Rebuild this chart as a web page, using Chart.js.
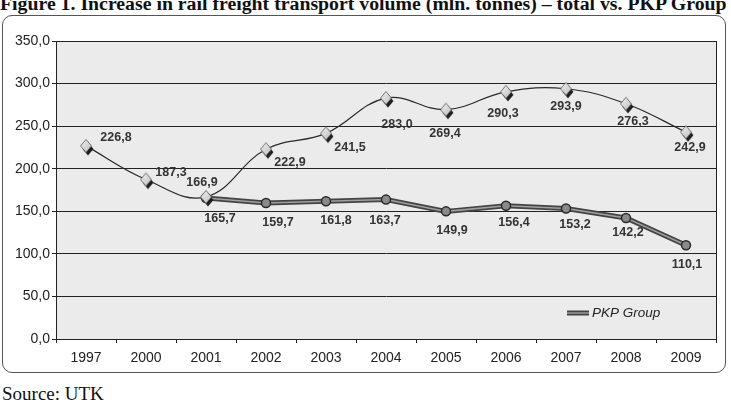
<!DOCTYPE html>
<html>
<head>
<meta charset="utf-8">
<script src="https://cdn.jsdelivr.net/npm/chart.js@4/dist/chart.umd.min.js"></script>
<style>
  html, body { margin: 0; padding: 0; background: #fff; }
  body { width: 731px; height: 414px; position: relative; overflow: hidden; }
  #title {
    position: absolute; left: 0; top: -6px; width: 740px; white-space: nowrap;
    font: bold 19.8px "Liberation Serif", "Times New Roman", serif; line-height: 18px; color: #111;
  }
  #box {
    position: absolute; left: 2px; top: 15px; width: 722px; height: 356px;
    border: 1px solid #555; border-radius: 10px; background: #fff;
  }
  #source {
    position: absolute; left: 2px; top: 383px;
    font: 19px "Liberation Serif", "Times New Roman", serif; color: #111;
  }
</style>
</head>
<body>
<div id="title">Figure 1. Increase in rail freight transport volume (mln. tonnes) – total vs. PKP Group</div>
<div id="box"><canvas id="chart" width="722" height="356"></canvas></div>
<div id="source">Source: UTK</div>
<script>
const years = ["1997", "2000", "2001", "2002", "2003", "2004", "2005", "2006", "2007", "2008", "2009"];
const totalVolume = [226.8, 187.3, 166.9, 222.9, 241.5, 283.0, 269.4, 290.3, 293.9, 276.3, 242.9];
const pkpVolume = [null, null, 165.7, 159.7, 161.8, 163.7, 149.9, 156.4, 153.2, 142.2, 110.1];
const yMin = 0, yMax = 350, yStep = 50;

// label offsets relative to the point (px)
const totalLabelOffsets = [[30, -8], [25, -7], [-4, -14], [24, 13], [24, 14], [11, 27], [-1, 24], [-3, 22], [0, 18], [7, 18], [4, 15]];
const pkpLabelOffsets = [null, null, [14, 21], [12, 20], [10, 19], [-1, 21], [6, 19], [8, 17], [9, 16], [2, 15], [1, 19]];

const fmt = v => v.toFixed(1).replace(".", ",");

// diamond marker with drop shadow
const diamond = document.createElement("canvas");
diamond.width = 22; diamond.height = 24;
(function () {
  const c = diamond.getContext("2d");
  const cx = 11, cy = 12, w = 5.5, h = 6.5;
  function shape(x, y) {
    c.beginPath();
    c.moveTo(x, y - h); c.lineTo(x + w, y); c.lineTo(x, y + h); c.lineTo(x - w, y); c.closePath();
  }
  shape(cx + 2, cy + 3);
  c.fillStyle = "#1e1e1e"; c.fill();
  shape(cx, cy);
  const g = c.createLinearGradient(cx - w, cy - h, cx + w, cy + h);
  g.addColorStop(0, "#f2f2f2"); g.addColorStop(1, "#bdbdbd");
  c.fillStyle = g; c.fill();
  c.strokeStyle = "#555"; c.lineWidth = 0.8; c.stroke();
})();

const plotDecor = {
  id: "plotDecor",
  beforeDraw(chart) {
    const { ctx, chartArea: a } = chart;
    ctx.save();
    ctx.fillStyle = "#ebebeb";
    ctx.fillRect(a.left, a.top, a.right - a.left, a.bottom - a.top);
    ctx.restore();
  },
  afterDraw(chart) {
    const { ctx, chartArea: a } = chart;
    ctx.save();
    ctx.strokeStyle = "#222"; ctx.lineWidth = 1;
    ctx.beginPath();
    ctx.moveTo(Math.round(a.right) + 0.5, a.top); ctx.lineTo(Math.round(a.right) + 0.5, a.bottom);
    ctx.stroke();

    // value labels
    ctx.font = "bold 12.5px 'Liberation Sans', Arial, sans-serif";
    ctx.fillStyle = "#333"; ctx.textAlign = "center"; ctx.textBaseline = "middle";
    const draw = (idx, values, offs) => {
      chart.getDatasetMeta(idx).data.forEach((pt, i) => {
        if (values[i] == null) return;
        ctx.fillText(fmt(values[i]), pt.x + offs[i][0], pt.y + offs[i][1]);
      });
    };
    draw(0, totalVolume, totalLabelOffsets);
    draw(2, pkpVolume, pkpLabelOffsets);

    // legend inside the plot
    const lx = a.right - 149, ly = a.bottom - 26;
    ctx.lineCap = "butt";
    ctx.strokeStyle = "#444"; ctx.lineWidth = 5;
    ctx.beginPath(); ctx.moveTo(lx, ly); ctx.lineTo(lx + 22, ly); ctx.stroke();
    ctx.strokeStyle = "#9a9a9a"; ctx.lineWidth = 1.5;
    ctx.beginPath(); ctx.moveTo(lx, ly); ctx.lineTo(lx + 22, ly); ctx.stroke();
    ctx.font = "italic 13.5px 'Liberation Sans', Arial, sans-serif";
    ctx.fillStyle = "#222"; ctx.textAlign = "left";
    ctx.fillText("PKP Group", lx + 25, ly + 0.5);
    ctx.restore();
  }
};

new Chart(document.getElementById("chart"), {
  type: "line",
  data: {
    labels: years,
    datasets: [
      {
        label: "Total",
        data: totalVolume,
        borderColor: "#2a2a2a",
        borderWidth: 1.2,
        tension: 0.4,
        pointStyle: diamond,
        order: 1
      },
      {
        label: "PKP Group outline",
        data: pkpVolume,
        borderColor: "#444",
        borderWidth: 5,
        tension: 0,
        pointRadius: 0,
        order: 3
      },
      {
        label: "PKP Group",
        data: pkpVolume,
        borderColor: "#a0a0a0",
        borderWidth: 1.5,
        tension: 0,
        pointRadius: 4.5,
        pointBackgroundColor: "#8a8a8a",
        pointBorderColor: "#2a2a2a",
        pointBorderWidth: 1.5,
        order: 2
      }
    ]
  },
  options: {
    responsive: false,
    animation: false,
    layout: { padding: { top: 25, right: 9, left: 0, bottom: 0 } },
    plugins: { legend: { display: false }, tooltip: { enabled: false } },
    scales: {
      x: {
        offset: true,
        afterFit: s => { s.height = 33; },
        grid: { offset: true, drawOnChartArea: false, color: "#222", tickLength: 4 },
        border: { color: "#222", width: 1 },
        ticks: { color: "#222", font: { family: "'Liberation Sans', Arial, sans-serif", size: 14 }, padding: 7 }
      },
      y: {
        min: yMin, max: yMax,
        afterFit: s => { s.width = 53; },
        grid: { color: "#222", tickLength: 4 },
        border: { color: "#222", width: 1 },
        ticks: {
          stepSize: yStep,
          color: "#222",
          font: { family: "'Liberation Sans', Arial, sans-serif", size: 14 },
          padding: 2,
          callback: v => fmt(v)
        }
      }
    }
  },
  plugins: [plotDecor]
});
</script>
</body>
</html>
